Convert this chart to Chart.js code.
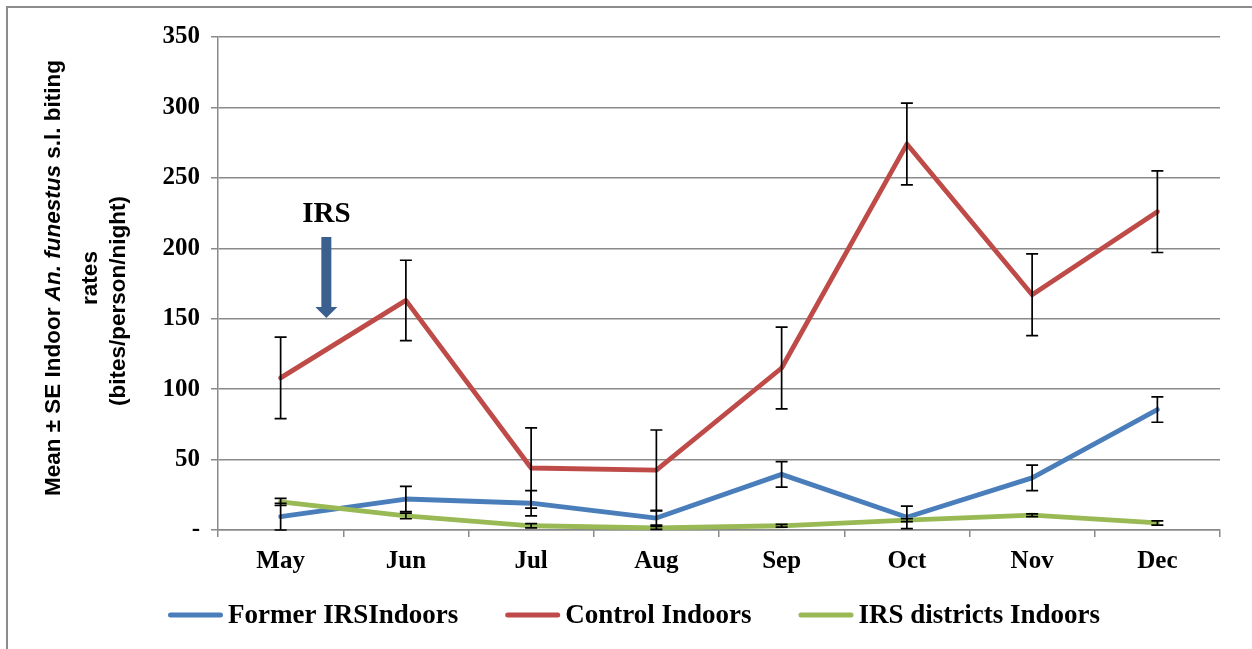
<!DOCTYPE html>
<html>
<head>
<meta charset="utf-8">
<script src="https://cdn.jsdelivr.net/npm/chart.js@4.4.1/dist/chart.umd.min.js"></script>
<style>
  html, body { margin: 0; padding: 0; background: #fff; }
</style>
</head>
<body>
<canvas id="chart" width="1252" height="649"></canvas>
<script>
// monthly indoor biting rates, mean and standard error
const months = ['May', 'Jun', 'Jul', 'Aug', 'Sep', 'Oct', 'Nov', 'Dec'];
const formerIrs = [9.5, 22, 19, 8.5, 39.5, 9, 37, 85.5];
const formerIrsSe = [9.5, 9, 9, 5, 9, 8, 9, 9];
const control = [108, 163, 44, 42.5, 115, 274, 167, 226];
const controlSe = [29, 28.5, 28.5, 28.5, 29, 29, 29, 29];
const irsDistricts = [20, 10, 3, 1.5, 3, 7, 10.5, 5];
const irsDistrictsSe = [2.5, 2, 1.5, 1, 1, 1, 1, 1.5];
const yTicks = [0, 50, 100, 150, 200, 250, 300, 350];

// where the spraying arrow sits (category index, axis values)
const irsMark = { at: 0.365, label: 224, from: 208, to: 150.5 };

const gridGrey = '#8a8a8a';
const serif = '"Liberation Serif", "Times New Roman", serif';

// mean +/- SE whiskers on every point
const errorBars = {
  id: 'errorBars',
  afterDatasetsDraw(chart) {
    const ctx = chart.ctx;
    const ys = chart.scales.y;
    ctx.save();
    ctx.strokeStyle = '#000';
    ctx.lineWidth = 1.7;
    chart.data.datasets.forEach((ds, di) => {
      const pts = chart.getDatasetMeta(di).data;
      ds.data.forEach((v, i) => {
        const px = pts[i].x;
        const top = ys.getPixelForValue(v + ds.errors[i]);
        const bot = ys.getPixelForValue(v - ds.errors[i]);
        ctx.beginPath();
        ctx.moveTo(px, top); ctx.lineTo(px, bot);
        ctx.moveTo(px - 6, top); ctx.lineTo(px + 6, top);
        ctx.moveTo(px - 6, bot); ctx.lineTo(px + 6, bot);
        ctx.stroke();
      });
    });
    ctx.restore();
  }
};

// "IRS" label with a down arrow
const irsArrow = {
  id: 'irsArrow',
  afterDatasetsDraw(chart) {
    const ctx = chart.ctx;
    const xs = chart.scales.x, ys = chart.scales.y;
    const x = xs.getPixelForValue(irsMark.at);
    const yLab = ys.getPixelForValue(irsMark.label);
    const y0 = ys.getPixelForValue(irsMark.from);
    const y1 = ys.getPixelForValue(irsMark.to);
    ctx.save();
    ctx.fillStyle = '#000';
    ctx.font = 'bold 29px ' + serif;
    ctx.textAlign = 'center';
    ctx.textBaseline = 'middle';
    ctx.fillText('IRS', x, yLab);
    ctx.fillStyle = '#3b6090';
    ctx.beginPath();
    ctx.moveTo(x - 5, y0);
    ctx.lineTo(x + 5, y0);
    ctx.lineTo(x + 5, y1 - 11);
    ctx.lineTo(x + 11, y1 - 11);
    ctx.lineTo(x, y1);
    ctx.lineTo(x - 11, y1 - 11);
    ctx.lineTo(x - 5, y1 - 11);
    ctx.closePath();
    ctx.fill();
    ctx.restore();
  }
};

// legend row under the axis, in dataset order
const bottomLegend = {
  id: 'bottomLegend',
  afterDraw(chart) {
    const ctx = chart.ctx;
    const lineLen = 55, textGap = 5, itemGap = 47, y = 615;
    ctx.save();
    ctx.font = 'bold 27px ' + serif;
    const items = chart.data.datasets.map(ds => ({
      text: ds.label, color: ds.borderColor, w: ctx.measureText(ds.label).width
    }));
    const total = items.reduce((s, it) => s + lineLen + textGap + it.w, 0) + itemGap * (items.length - 1);
    let x = chart.width / 2 + 8 - total / 2;
    ctx.lineWidth = 5;
    ctx.lineCap = 'round';
    ctx.textBaseline = 'alphabetic';
    ctx.textAlign = 'left';
    items.forEach(it => {
      ctx.strokeStyle = it.color;
      ctx.beginPath();
      ctx.moveTo(x + 2.5, y);
      ctx.lineTo(x + lineLen - 2.5, y);
      ctx.stroke();
      ctx.fillStyle = '#000';
      ctx.fillText(it.text, x + lineLen + textGap, y + 8);
      x += lineLen + textGap + it.w + itemGap;
    });
    ctx.restore();
  }
};

// outer frame and the three-line y title (with the italic species name)
const frameAndTitle = {
  id: 'frameAndTitle',
  beforeDraw(chart) {
    const ctx = chart.ctx;
    ctx.save();
    ctx.strokeStyle = '#8c8c8c';
    ctx.lineWidth = 2;
    ctx.beginPath();
    ctx.moveTo(7, chart.height);
    ctx.lineTo(7, 7);
    ctx.lineTo(chart.width, 7);
    ctx.stroke();
    ctx.restore();
  },
  afterDraw(chart) {
    const ctx = chart.ctx;
    const sans = '"Liberation Sans", Arial, sans-serif';
    const size = 22.5;
    const lines = [
      { x: 60, y: 278, parts: [['Mean \u00b1 SE Indoor ', ''], ['An. funestus', 'italic '], [' s.l. biting', '']] },
      { x: 97, y: 278, parts: [['rates', '']] },
      { x: 125, y: 301, parts: [['(bites/person/night)', '']] }
    ];
    ctx.save();
    ctx.fillStyle = '#000';
    ctx.textBaseline = 'alphabetic';
    ctx.textAlign = 'left';
    lines.forEach(line => {
      let total = 0;
      line.parts.forEach(p => {
        ctx.font = p[1] + 'bold ' + size + 'px ' + sans;
        total += ctx.measureText(p[0]).width;
      });
      ctx.save();
      ctx.translate(line.x, line.y);
      ctx.rotate(-Math.PI / 2);
      let cx = -total / 2;
      line.parts.forEach(p => {
        ctx.font = p[1] + 'bold ' + size + 'px ' + sans;
        ctx.fillText(p[0], cx, 0);
        cx += ctx.measureText(p[0]).width;
      });
      ctx.restore();
    });
    ctx.restore();
  }
};

function series(label, values, errors, color, order) {
  return {
    label: label,
    data: values,
    errors: errors,
    borderColor: color,
    backgroundColor: color,
    borderWidth: 4.8,
    borderCapStyle: 'round',
    borderJoinStyle: 'round',
    pointRadius: 0,
    pointHoverRadius: 0,
    tension: 0,
    order: order
  };
}

const data = {
  labels: months,
  datasets: [
    series('Former IRSIndoors', formerIrs, formerIrsSe, '#4a7ebb', 2),
    series('Control Indoors', control, controlSe, '#be4b48', 1),
    series('IRS districts Indoors', irsDistricts, irsDistrictsSe, '#98b954', 0)
  ]
};

const config = {
  type: 'line',
  data: data,
  options: {
    responsive: false,
    animation: false,
    layout: { padding: { left: 74, right: 32, top: 37, bottom: 69 } },
    plugins: {
      tooltip: { enabled: false },
      legend: { display: false }
    },
    scales: {
      x: {
        offset: true,
        afterFit(scale) { scale.height = 50; },
        grid: {
          offset: true,
          drawOnChartArea: false,
          drawTicks: true,
          tickLength: 7,
          color: gridGrey,
          lineWidth: 1.5
        },
        border: { color: gridGrey, width: 1.5 },
        ticks: {
          color: '#000',
          padding: 10,
          maxRotation: 0,
          font: { family: serif, size: 25, weight: 'bold' }
        }
      },
      y: {
        min: 0,
        max: 350,
        afterFit(scale) { scale.width = 144; },
        afterBuildTicks(scale) { scale.ticks = yTicks.map(v => ({ value: v })); },
        grid: { color: gridGrey, lineWidth: 1.5, tickLength: 7 },
        border: { color: gridGrey, width: 1.5 },
        ticks: {
          color: '#000',
          padding: 11,
          font: { family: serif, size: 25, weight: 'bold' },
          callback: v => v === 0 ? '-' : v
        }
      }
    }
  },
  plugins: [frameAndTitle, errorBars, irsArrow, bottomLegend]
};

new Chart(document.getElementById('chart').getContext('2d'), config);
</script>
</body>
</html>
